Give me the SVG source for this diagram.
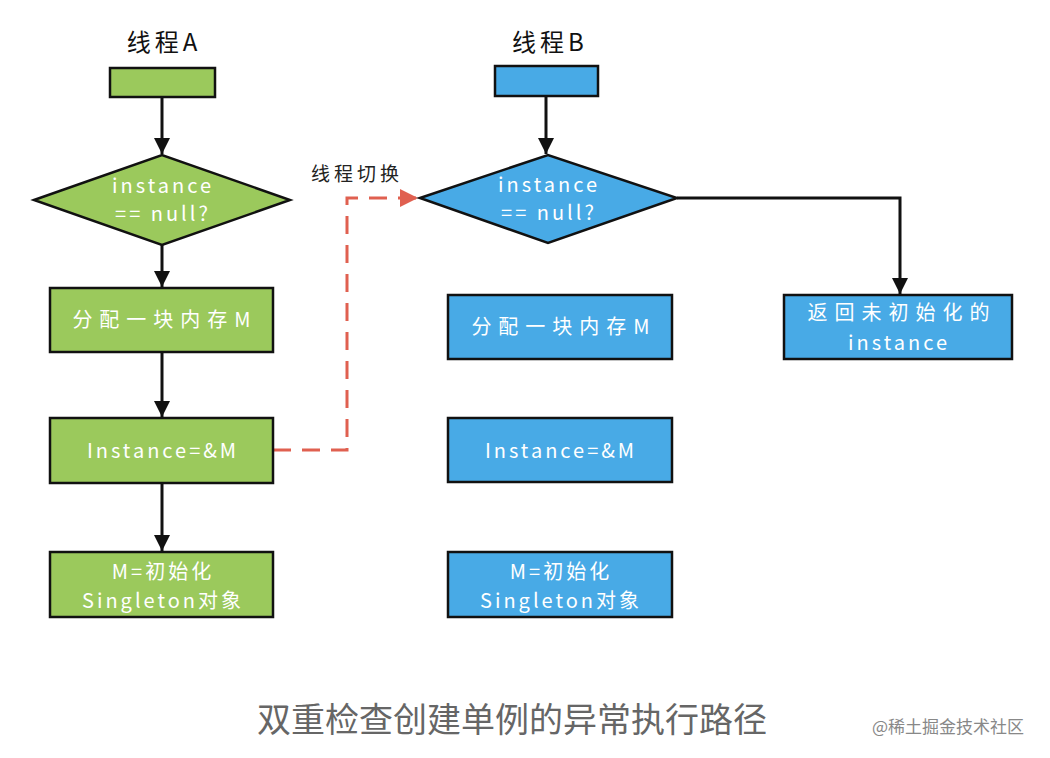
<svg xmlns="http://www.w3.org/2000/svg" width="1050" height="758" viewBox="0 0 1050 758">
<style>
.g{fill:#9bc95c;stroke:#111;stroke-width:2.5}
.b{fill:#48aae6;stroke:#111;stroke-width:2.5}
.t{font-family:"Noto Sans CJK SC","Noto Sans",sans-serif;font-size:20px;fill:#fff;text-anchor:middle;letter-spacing:3px}
.w{letter-spacing:7px}
.h{font-family:"Noto Sans CJK SC","Noto Sans",sans-serif;font-size:24px;fill:#111;text-anchor:middle;letter-spacing:4px}
.c{fill:none;stroke:#111;stroke-width:3}
</style>
<defs>
<marker id="ah" viewBox="0 0 10 10" refX="10" refY="5" markerWidth="5.5" markerHeight="5.5" orient="auto" markerUnits="strokeWidth"><path d="M0,0L10,5L0,10z" fill="#111"/></marker>
<marker id="ar" viewBox="0 0 10 10" refX="10" refY="5" markerWidth="6" markerHeight="6" orient="auto" markerUnits="strokeWidth"><path d="M0,0L10,5L0,10z" fill="#e06050"/></marker>
</defs>
<rect width="1050" height="758" fill="#fff"/>
<text class="h" x="164" y="51">线程A</text>
<text class="h" x="550" y="51">线程B</text>
<g id="connectors">
<line class="c" x1="162" y1="97" x2="162" y2="154" marker-end="url(#ah)"/>
<line class="c" x1="162" y1="245" x2="162" y2="287" marker-end="url(#ah)"/>
<line class="c" x1="162" y1="352" x2="162" y2="417" marker-end="url(#ah)"/>
<line class="c" x1="162" y1="483" x2="162" y2="551" marker-end="url(#ah)"/>
<line class="c" x1="546" y1="96" x2="546" y2="154" marker-end="url(#ah)"/>
<polyline class="c" points="677,198 900,198 900,294" marker-end="url(#ah)"/>
<polyline points="273,450 347,450 347,198 418,198" fill="none" stroke="#e06050" stroke-width="3" stroke-dasharray="18,11" marker-end="url(#ar)"/>
<text x="357" y="181" font-family="'Noto Sans CJK SC',sans-serif" font-size="19" fill="#222" text-anchor="middle" letter-spacing="4">线程切换</text>
</g>
<g id="a0"><rect class="g" x="110" y="68" width="105" height="29"/></g>
<g id="a1"><polygon class="g" points="34,200 162,155 290,200 162,245"/><text class="t" x="163" y="193">instance</text><text class="t" x="163" y="221">== null?</text></g>
<g id="a2"><rect class="g" x="50" y="288" width="223" height="64"/><text class="t w" x="165" y="327">分配一块内存M</text></g>
<g id="a3"><rect class="g" x="50" y="418" width="223" height="65"/><text class="t" x="163" y="458">Instance=&amp;M</text></g>
<g id="a4"><rect class="g" x="50" y="552" width="223" height="65"/><text class="t" x="163" y="579">M=初始化</text><text class="t" x="163" y="608">Singleton对象</text></g>
<g id="b0"><rect class="b" x="495" y="66" width="103" height="30"/></g>
<g id="b1"><polygon class="b" points="420,198 548,155 677,198 548,243"/><text class="t" x="549" y="192">instance</text><text class="t" x="549" y="220">== null?</text></g>
<g id="b2"><rect class="b" x="448" y="295" width="224" height="64"/><text class="t w" x="564" y="334">分配一块内存M</text></g>
<g id="b3"><rect class="b" x="448" y="418" width="224" height="64"/><text class="t" x="561" y="458">Instance=&amp;M</text></g>
<g id="b4"><rect class="b" x="448" y="552" width="224" height="65"/><text class="t" x="561" y="579">M=初始化</text><text class="t" x="561" y="608">Singleton对象</text></g>
<g id="b5"><rect class="b" x="784" y="295" width="228" height="64"/><text class="t w" x="902" y="320">返回未初始化的</text><text class="t" x="899" y="350">instance</text></g>
<text x="512" y="732" font-family="'Noto Sans CJK SC',sans-serif" font-size="34" fill="#666" text-anchor="middle">双重检查创建单例的异常执行路径</text>
<text x="948" y="733" font-family="'Noto Sans CJK SC',sans-serif" font-size="17" fill="#888" text-anchor="middle">@稀土掘金技术社区</text>
</svg>
